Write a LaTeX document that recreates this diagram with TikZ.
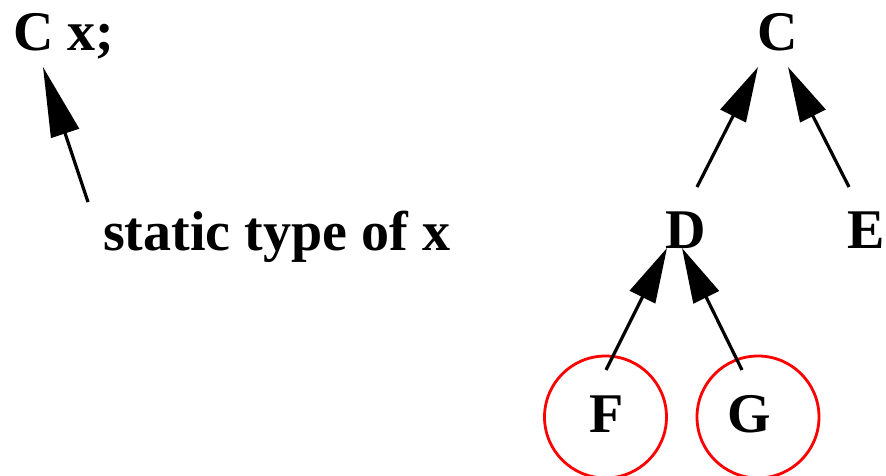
\documentclass[tikz,border=0pt]{standalone}
\usepackage{fontspec}
\setmainfont{Liberation Serif}
\usetikzlibrary{arrows.meta}
\begin{document}
\begin{tikzpicture}[x=1pt,y=-1pt,
  lbl/.style={font=\fontsize{56}{60}\selectfont\bfseries, inner sep=0pt, anchor=base},
  lblw/.style={lbl, anchor=base west},
  circ/.style={draw=red, line width=2.8pt, circle, minimum size=122pt, inner sep=0pt},
  bigarr/.style={line width=3.2pt, -{Triangle[length=70pt,width=29pt]}},
  arr/.style={line width=3.2pt, -{Triangle[length=55pt,width=28pt]}}]
  \useasboundingbox (0,0) rectangle (886,476);

  % declaration and its label
  \node[lblw] (decl) at (13,51) {C x;};
  \node[lblw] (stype) at (103,250) {static type of x};
  \coordinate (declTip) at (43,67);
  \coordinate (stypeTail) at (88,202);
  \draw[bigarr] (stypeTail) -- (declTip);

  % class hierarchy
  \node[lbl] (C) at (778,51) {C};
  \node[lbl] (D) at (686,248) {D};
  \node[lbl] (E) at (866,248) {E};
  \node[circ] (F) at (605.5,417) {};
  \node[circ] (G) at (758,417) {};
  \node[lbl] (Ftxt) at (607,432) {F};
  \node[lbl] (Gtxt) at (749,432) {G};

  \coordinate (CtipL) at (758,67);
  \coordinate (CtipR) at (788,67);
  \coordinate (DtailTop) at (697,187);
  \coordinate (EtailTop) at (849,187);
  \coordinate (DtipL) at (667,248);
  \coordinate (DtipR) at (682,248);
  \coordinate (FtailTop) at (606,370);
  \coordinate (GtailTop) at (742,370);

  \draw[arr] (DtailTop) -- (CtipL);
  \draw[arr] (EtailTop) -- (CtipR);
  \draw[arr] (FtailTop) -- (DtipL);
  \draw[arr] (GtailTop) -- (DtipR);
\end{tikzpicture}
\end{document}
